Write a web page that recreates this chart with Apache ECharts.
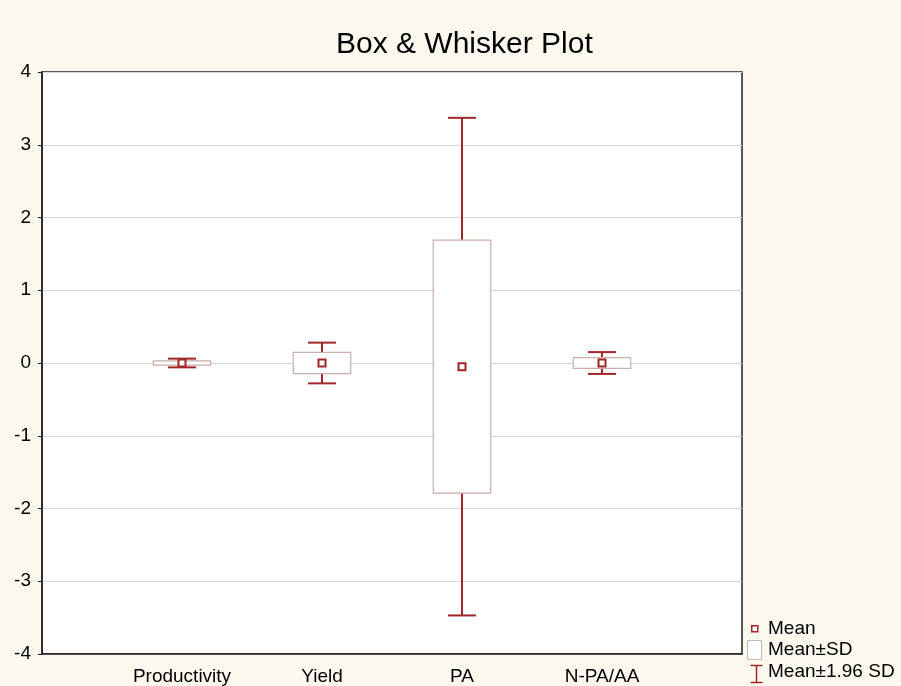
<!DOCTYPE html>
<html>
<head>
<meta charset="utf-8">
<script src="https://cdn.jsdelivr.net/npm/echarts@6/dist/echarts.min.js"></script>
<style>
html,body{margin:0;padding:0;background:#fdf9ee;}
#c{width:901px;height:686px;}
</style>
</head>
<body>
<div id="c"></div>
<script>
const categories = ['Productivity', 'Yield', 'PA', 'N-PA/AA'];
const means   = [0.00, 0.00, -0.05, 0.00];
const sdLow   = [-0.03, -0.145, -1.79, -0.075];
const sdHigh  = [0.03, 0.145, 1.69, 0.075];
const ciLow   = [-0.06, -0.28, -3.47, -0.15];
const ciHigh  = [0.06, 0.28, 3.37, 0.15];
const yTicks  = [-4, -3, -2, -1, 0, 1, 2, 3, 4];

const FONT = '"Liberation Sans", Arial, sans-serif';
const RED = '#a02729';
const BOXC = '#c7aeac';

const chart = echarts.init(document.getElementById('c'));
const items = categories.map((c, i) => [i + 1, means[i], sdLow[i], sdHigh[i], ciLow[i], ciHigh[i]]);

function renderItem(params, api) {
  const x = api.value(0);
  const pMean = api.coord([x, api.value(1)]);
  const pSdL = api.coord([x, api.value(2)]);
  const pSdH = api.coord([x, api.value(3)]);
  const pCiL = api.coord([x, api.value(4)]);
  const pCiH = api.coord([x, api.value(5)]);
  const unit = api.size([1, 0])[0];
  const boxW = unit * 0.41;
  const capW = unit * 0.2;
  const cx = pMean[0];
  const lineStyle = { stroke: RED, lineWidth: 2 };
  return {
    type: 'group',
    children: [
      { type: 'line', shape: { x1: cx, y1: pCiH[1], x2: cx, y2: pCiL[1] }, style: lineStyle },
      { type: 'line', shape: { x1: cx - capW / 2, y1: pCiH[1], x2: cx + capW / 2, y2: pCiH[1] }, style: lineStyle },
      { type: 'line', shape: { x1: cx - capW / 2, y1: pCiL[1], x2: cx + capW / 2, y2: pCiL[1] }, style: lineStyle },
      { type: 'rect', shape: { x: cx - boxW / 2, y: pSdH[1], width: boxW, height: pSdL[1] - pSdH[1] },
        style: { fill: '#ffffff', stroke: BOXC, lineWidth: 1.2 } },
      { type: 'rect', shape: { x: pMean[0] - 3.5, y: pMean[1] - 3.5, width: 7, height: 7 },
        style: { fill: '#ffffff', stroke: RED, lineWidth: 2 } }
    ]
  };
}

chart.setOption({
  backgroundColor: '#fdf9ee',
  animation: false,
  title: {
    text: 'Box & Whisker Plot',
    left: 331, top: 25,
    textStyle: { fontFamily: FONT, fontSize: 30, fontWeight: 'normal', color: '#000' }
  },
  grid: {
    left: 42, right: 159, top: 72, bottom: 31,
    show: true, backgroundColor: '#ffffff', borderColor: '#222', borderWidth: 1.5
  },
  xAxis: {
    type: 'value', min: 0, max: 5, interval: 1,
    axisLine: { show: true, onZero: false, lineStyle: { color: '#222', width: 1.5 } },
    axisTick: { show: false },
    splitLine: { show: false },
    axisLabel: {
      fontFamily: FONT, fontSize: 19, color: '#000', margin: 13,
      formatter: v => categories[v - 1] || ''
    }
  },
  yAxis: {
    type: 'value', min: -4, max: 4, interval: 1,
    axisLine: { show: true, onZero: false, lineStyle: { color: '#222', width: 1.5 } },
    axisTick: { show: true, inside: false, length: 4, lineStyle: { color: '#222' } },
    splitLine: { show: true, lineStyle: { color: '#d6d6d6', width: 1 } },
    axisLabel: {
      fontFamily: FONT, fontSize: 19, color: '#000', margin: 11,
      formatter: v => yTicks.includes(v) ? String(v) : ''
    }
  },
  series: [{
    type: 'custom',
    renderItem: renderItem,
    data: items,
    encode: { x: 0, y: [1, 2, 3, 4, 5] },
    z: 5
  }],
  graphic: [
    { type: 'rect', left: 751, top: 625, shape: { width: 6, height: 6 }, style: { fill: '#fff', stroke: RED, lineWidth: 1.5 } },
    { type: 'text', left: 768, top: 619, style: { text: 'Mean', font: '19px ' + FONT, fill: '#000' } },
    { type: 'rect', left: 747, top: 640, shape: { width: 14, height: 19 }, style: { fill: '#fff', stroke: '#bbbbbb', lineWidth: 1 } },
    { type: 'text', left: 768, top: 640, style: { text: 'Mean±SD', font: '19px ' + FONT, fill: '#000' } },
    { type: 'group', left: 748, top: 663, children: [
      { type: 'line', shape: { x1: 1, y1: 1, x2: 13, y2: 1 }, style: { stroke: RED, lineWidth: 1.5 } },
      { type: 'line', shape: { x1: 7, y1: 1, x2: 7, y2: 18 }, style: { stroke: RED, lineWidth: 1.5 } },
      { type: 'line', shape: { x1: 1, y1: 18, x2: 13, y2: 18 }, style: { stroke: RED, lineWidth: 1.5 } }
    ]},
    { type: 'text', left: 768, top: 662, style: { text: 'Mean±1.96 SD', font: '19px ' + FONT, fill: '#000' } }
  ]
});
</script>
</body>
</html>
